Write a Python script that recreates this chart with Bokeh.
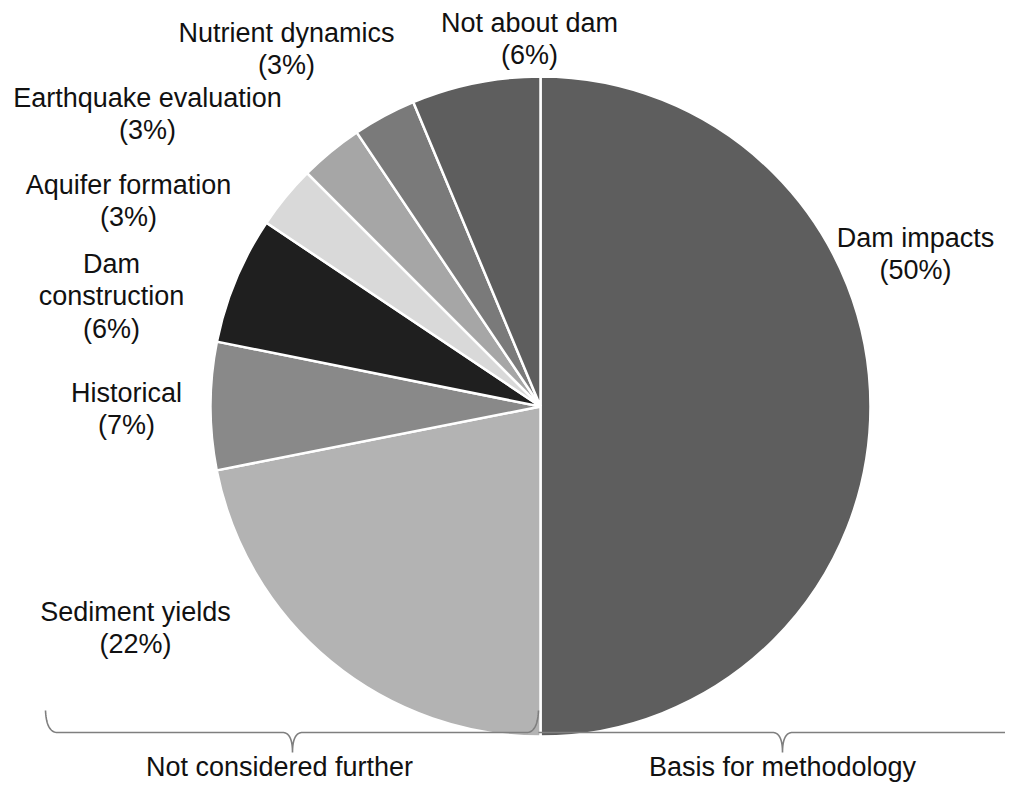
import numpy as np
from bokeh.plotting import figure
from bokeh.models import ColumnDataSource, Range1d
from bokeh.embed import file_html
from bokeh.resources import INLINE
from bokeh.core.properties import value

# ---- data ----
categories = ["Dam impacts", "Sediment yields", "Historical", "Dam construction",
              "Aquifer formation", "Earthquake evaluation", "Nutrient dynamics", "Not about dam"]
shares = [50.0, 21.9, 6.25, 6.25, 3.1, 3.1, 3.1, 6.3]
pct_labels = ["(50%)", "(22%)", "(7%)", "(6%)", "(3%)", "(3%)", "(3%)", "(6%)"]
colors = ["#5e5e5e", "#b3b3b3", "#898989", "#1f1f1f", "#d9d9d9", "#a6a6a6", "#7a7a7a", "#5e5e5e"]
group_labels = ["Not considered further", "Basis for methodology"]

# ---- layout (image pixel coordinates) ----
W, H = 1005, 782
def Y(y):
    return H - y

cx, cy, R = 540, Y(406), 330
label_lines = [["Dam impacts"], ["Sediment yields"], ["Historical"], ["Dam", "construction"],
               ["Aquifer formation"], ["Earthquake evaluation"], ["Nutrient dynamics"], ["Not about dam"]]
label_pos = [(915, 237), (135, 611), (126, 392), (111, 263),
             (128, 184), (147, 97), (286, 32), (529, 22)]
line_gap = 32.5
FONT = value("Liberation Sans")
FSIZE = "27px"

p = figure(width=W, height=H, output_backend="svg", toolbar_location=None,
           x_range=Range1d(0, W), y_range=Range1d(0, H),
           min_border=0, background_fill_color="white", border_fill_color="white")
p.axis.visible = False
p.grid.visible = False
p.outline_line_color = None

# wedges: clockwise from top
frac = np.array(shares) / sum(shares)
cum = np.concatenate([[0], np.cumsum(frac)])
start = np.pi / 2 - 2 * np.pi * cum[:-1]
end = np.pi / 2 - 2 * np.pi * cum[1:]
src = ColumnDataSource(dict(start=start, end=end, color=colors, cat=categories))

bc = "#7f7f7f"
bw = 1.6
yh = Y(732)
ytop = Y(710)
ytip = Y(752)

def qcurve(P0, C, P1, n=20):
    t = np.linspace(0, 1, n)[:, None]
    pts = (1 - t) ** 2 * np.array(P0) + 2 * (1 - t) * t * np.array(C) + t ** 2 * np.array(P1)
    return list(pts[:, 0]), list(pts[:, 1])

def brace(x0, x1, xt, hook_left=True, hook_right=True):
    xs, ys = [], []
    if hook_left:
        a, b = qcurve([x0, ytop], [x0 + 1, yh], [x0 + 12, yh]); xs += a; ys += b
    else:
        xs.append(x0); ys.append(yh)
    a, b = qcurve([xt - 10, yh], [xt, yh], [xt, ytip]); xs += a; ys += b
    a, b = qcurve([xt, ytip], [xt, yh], [xt + 10, yh]); xs += a; ys += b
    if hook_right:
        a, b = qcurve([x1 - 12, yh], [x1 - 1, yh], [x1, ytop]); xs += a; ys += b
    else:
        xs.append(x1); ys.append(yh)
    return xs, ys

p.wedge(x=cx, y=cy, radius=R, start_angle="start", end_angle="end", direction="clock",
        fill_color="color", line_color="white", line_width=2.5, source=src)

bx1, by1 = brace(45, 538, 292)
bx2, by2 = brace(538, 1040, 782, hook_left=False, hook_right=False)
p.line(bx1, by1, line_color=bc, line_width=bw)
p.line(bx2, by2, line_color=bc, line_width=bw)

# labels
tx, ty, tt = [], [], []
for lines, pct, (lx, ly) in zip(label_lines, pct_labels, label_pos):
    for i, s in enumerate(lines + [pct]):
        tx.append(lx); ty.append(Y(ly + i * line_gap)); tt.append(s)
p.text(x=tx, y=ty, text=tt, text_font=FONT, text_font_size=FSIZE, text_color="#111111",
       text_align="center", text_baseline="alphabetic")

p.text(x=[279, 782], y=[Y(766), Y(766)], text=group_labels, text_font=FONT, text_font_size=FSIZE,
       text_color="#111111", text_align="center", text_baseline="alphabetic")

open("out.html", "w").write(file_html(p, INLINE))
